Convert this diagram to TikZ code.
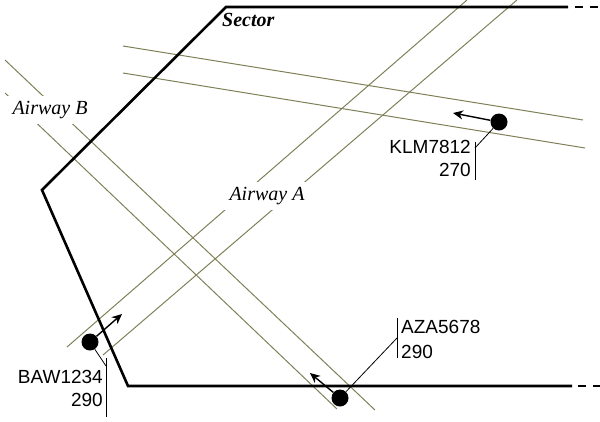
\documentclass[tikz,border=0pt]{standalone}
\usepackage{fontspec}
\setmainfont{Liberation Serif}
\newfontfamily\sansf{Liberation Sans}
\usetikzlibrary{arrows.meta}
\definecolor{awcol}{RGB}{128,128,88}
\begin{document}
\begin{tikzpicture}[x=1pt,y=-1pt,
  airway/.style={draw=awcol, line width=1pt},
  sectorline/.style={line width=2.6pt},
  sectordash/.style={line width=2.6pt, dash pattern=on 8pt off 7pt},
  plane/.style={circle, fill=black, minimum size=17pt, inner sep=0pt},
  heading/.style={line width=1.4pt, -{Stealth[length=10pt,width=9pt,inset=3pt]}},
  leader/.style={line width=0.8pt},
  tickline/.style={line width=1pt},
  tag/.style={font=\sansf\fontsize{19}{22}\selectfont, inner sep=0pt},
  awlabel/.style={fill=white, font=\itshape\fontsize{20}{24}\selectfont, inner xsep=8pt, inner ysep=5pt},
]
\useasboundingbox (0,0) rectangle (600,421);
\clip (0,0) rectangle (600,421);

% airway coordinates
\coordinate (c1a) at (123,46);  \coordinate (c1b) at (583,120);
\coordinate (c2a) at (123,73);  \coordinate (c2b) at (585,148);
\coordinate (a1a) at (67,347);  \coordinate (a1b) at (467,0);
\coordinate (a2a) at (103,355); \coordinate (a2b) at (517,0);
\coordinate (b1a) at (5,60);    \coordinate (b1b) at (375,410);
\coordinate (b2a) at (5,93);    \coordinate (b2b) at (337,409);

\draw[airway] (c1a) -- (c1b);
\draw[airway] (c2a) -- (c2b);
\draw[airway] (a1a) -- (a1b);
\draw[airway] (a2a) -- (a2b);
\draw[airway] (b1a) -- (b1b);
\draw[airway] (b2a) -- (b2b);

% sector
\coordinate (s1) at (568,7);
\coordinate (s2) at (226,7);
\coordinate (s3) at (42,190);
\coordinate (s4) at (128,386);
\coordinate (s5) at (572,386);
\coordinate (td1) at (575,7);  \coordinate (td2) at (600,7);
\coordinate (bd1) at (578,386); \coordinate (bd2) at (602,386);
\draw[sectorline] (s1) -- (s2) -- (s3) -- (s4) -- (s5);
\draw[sectordash] (td1) -- (td2);
\draw[sectordash] (bd1) -- (bd2);

% labels
\node[font=\bfseries\itshape\fontsize{20}{24}\selectfont, anchor=west, inner sep=0pt] (sector) at (222,20) {Sector};
\node[awlabel] (awB) at (50,110) {Airway B};
\node[awlabel] (awA) at (267,196) {Airway A};

% BAW1234
\node[plane] (baw) at (90,342) {};
\coordinate (bawtip) at (122,314);
\coordinate (bawk) at (106,366);
\coordinate (bawt) at (106,358);
\coordinate (bawb) at (106,417);
\draw[leader] (baw) -- (bawk);
\draw[tickline] (bawt) -- (bawb);
\draw[heading] (baw) -- (bawtip);
\node[tag, anchor=east] (bawid) at (103,377) {BAW1234};
\node[tag, anchor=east] (bawfl) at (103,400) {290};

% KLM7812
\node[plane] (klm) at (499,122) {};
\coordinate (klmtip) at (453,113);
\coordinate (klmk) at (475,148);
\coordinate (klmt) at (475,142);
\coordinate (klmb) at (475,180);
\draw[leader] (klm) -- (klmk);
\draw[tickline] (klmt) -- (klmb);
\draw[heading] (klm) -- (klmtip);
\node[tag, anchor=east] (klmid) at (471,147) {KLM7812};
\node[tag, anchor=east] (klmfl) at (471,170) {270};

% AZA5678
\node[plane] (aza) at (340,398) {};
\coordinate (azatip) at (310,373);
\coordinate (azak) at (397,338);
\coordinate (azat) at (397,318);
\coordinate (azab) at (397,358);
\draw[leader] (aza) -- (azak);
\draw[tickline] (azat) -- (azab);
\draw[heading] (aza) -- (azatip);
\node[tag, anchor=west] (azaid) at (401,327) {AZA5678};
\node[tag, anchor=west] (azafl) at (401,352) {290};
\end{tikzpicture}
\end{document}
